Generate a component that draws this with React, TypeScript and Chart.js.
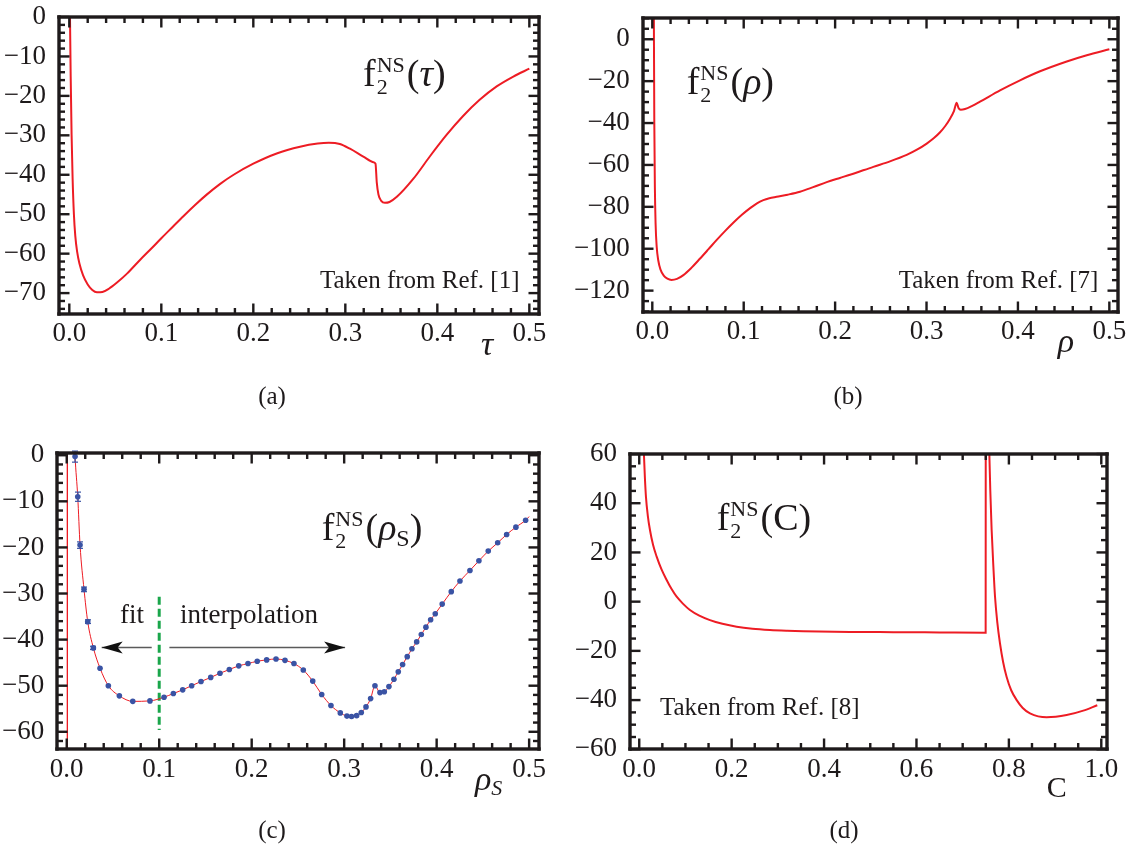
import React, { useEffect, useRef } from 'react';
import { Chart, registerables } from 'chart.js';

Chart.register(...registerables);

const SERIF = '"Liberation Serif", "Times New Roman", Times, serif';
const INK = '#1e1a1b';
const RED = '#ed1c24';
const BLUE = '#3a53a4';
const GREEN = '#1aa64b';
const ARROW = '#5a5a5a';

Chart.defaults.font.family = SERIF;
Chart.defaults.color = INK;

// ---------------- Panel (a): f2NS(tau) ----------------
const aTau = [0.0006, 0.0015, 0.0025, 0.0036, 0.005, 0.0065, 0.0085, 0.011, 0.015, 0.02, 0.025, 0.03, 0.036, 0.043, 0.0515, 0.063, 0.0768, 0.09, 0.1, 0.112, 0.124, 0.137, 0.149, 0.164, 0.1786, 0.2, 0.2254, 0.2508, 0.27, 0.282, 0.294, 0.305, 0.3196, 0.3304, 0.3328, 0.3342, 0.336, 0.339, 0.343, 0.348, 0.356, 0.374, 0.392, 0.41, 0.428, 0.446, 0.4645, 0.4826, 0.5];
const aF = [3, -15, -30, -41, -50, -55.5, -59.5, -62.5, -65.5, -67.8, -69.2, -69.8, -69.7, -68.9, -67.4, -65.0, -61.6, -58.5, -56.1, -53.3, -50.5, -47.6, -45.1, -42.3, -40.0, -37.2, -34.6, -32.9, -32.1, -31.9, -32.2, -33.4, -35.4, -36.8, -37.2, -42.0, -45.0, -46.6, -47.1, -46.9, -45.6, -41.0, -35.3, -29.9, -25.1, -21.0, -17.6, -15.1, -13.1];
const aXTicks = [0, 0.1, 0.2, 0.3, 0.4, 0.5];
const aYTicks = [0, -10, -20, -30, -40, -50, -60, -70];

// ---------------- Panel (b): f2NS(rho) ----------------
const bRho = [0.0017, 0.0022, 0.0028, 0.0036, 0.0048, 0.0065, 0.009, 0.0125, 0.0165, 0.021, 0.027, 0.034, 0.043, 0.052, 0.0615, 0.0705, 0.0795, 0.0886, 0.098, 0.107, 0.1145, 0.1215, 0.128, 0.136, 0.148, 0.1616, 0.176, 0.1908, 0.2052, 0.2163, 0.2418, 0.26, 0.2783, 0.29, 0.3002, 0.3078, 0.3148, 0.3205, 0.3257, 0.33, 0.333, 0.335, 0.3374, 0.3421, 0.35, 0.3585, 0.3804, 0.4023, 0.4242, 0.4534, 0.4753, 0.5];
const bF = [12, -40, -70, -88, -99, -105.5, -110, -112.8, -114.3, -114.9, -114.4, -112.6, -109, -104.8, -100.2, -95.8, -91.6, -87.6, -83.8, -80.6, -78.3, -76.8, -75.9, -75.2, -74.2, -72.8, -70.6, -68.2, -66.2, -64.7, -60.9, -58.3, -55.2, -52.6, -49.8, -47.3, -44.4, -41.4, -37.9, -34.3, -30.3, -32.8, -33.6, -33.3, -31.8, -29.8, -24.4, -19.6, -15.3, -10.6, -7.6, -4.8];
const bXTicks = [0, 0.1, 0.2, 0.3, 0.4, 0.5];
const bYTicks = [0, -20, -40, -60, -80, -100, -120];

// ---------------- Panel (c): f2NS(rhoS) ----------------
const cRhoS = [0.009, 0.0119, 0.0144, 0.0187, 0.0227, 0.0288, 0.036, 0.045, 0.0569, 0.0714, 0.09, 0.1052, 0.1153, 0.1254, 0.1351, 0.1452, 0.1557, 0.1657, 0.1758, 0.186, 0.196, 0.206, 0.2162, 0.2263, 0.236, 0.2457, 0.2558, 0.266, 0.2757, 0.2857, 0.2958, 0.303, 0.308, 0.3135, 0.3185, 0.3236, 0.3286, 0.3333, 0.3387, 0.3434, 0.3484, 0.3538, 0.3585, 0.3632, 0.3682, 0.3733, 0.3784, 0.3834, 0.3884, 0.3935, 0.3985, 0.406, 0.4158, 0.4252, 0.436, 0.4457, 0.4558, 0.466, 0.4757, 0.4857, 0.4962];
const cF = [-0.3, -9.0, -19.5, -29.1, -36.1, -41.8, -46.2, -50.0, -52.2, -53.4, -53.3, -52.5, -51.7, -50.9, -50.0, -49.1, -48.2, -47.3, -46.5, -45.7, -45.2, -44.7, -44.4, -44.2, -44.5, -45.2, -46.6, -49.0, -51.9, -54.3, -55.9, -56.6, -56.7, -56.5, -55.8, -54.6, -52.8, -50.0, -51.5, -51.3, -50.2, -48.6, -47.0, -45.4, -43.7, -42.0, -40.5, -38.9, -37.3, -35.7, -34.4, -32.3, -29.6, -27.3, -25.0, -22.9, -20.8, -19.0, -17.2, -15.6, -14.1];
const cErr = [1.2, 1.0, 0.7, 0.5, 0.4, 0.35];
const cFitRhoS = [0.0083, ...cRhoS, 0.5];
const cFitF = [3, ...cF, -13.3];
const cPoleRhoS = [0.0007, 0.0007];
const cPoleF = [2, -66];
const cCutRhoS = [0.1, 0.1];
const cCutF = [-30.7, -59.6];
const cFitArrowRhoS = [0.0919, 0.0378];
const cInterpArrowRhoS = [0.111, 0.301];
const cArrowF = [-41.7, -41.7];
const cXTicks = [0, 0.1, 0.2, 0.3, 0.4, 0.5];
const cYTicks = [0, -10, -20, -30, -40, -50, -60];

// ---------------- Panel (d): f2NS(C) ----------------
const dC1 = [0.0095, 0.0102, 0.0122, 0.0145, 0.0185, 0.0232, 0.03, 0.0377, 0.048, 0.0593, 0.07, 0.081, 0.095, 0.1097, 0.13, 0.153, 0.18, 0.2108, 0.245, 0.2829, 0.32, 0.355, 0.456, 0.55, 0.65, 0.7497, 0.7499];
const dF1 = [64, 59.6, 50.5, 42.7, 35.0, 29.1, 23.0, 18.3, 13.2, 8.8, 5.1, 2.0, -0.9, -3.4, -5.7, -7.5, -9.0, -10.2, -11.0, -11.5, -11.8, -12.0, -12.3, -12.4, -12.5, -12.6, 64];
const dC2 = [0.7572, 0.7598, 0.7627, 0.7665, 0.77, 0.775, 0.7807, 0.7875, 0.795, 0.805, 0.8169, 0.83, 0.8457, 0.8818, 0.925, 0.961, 0.9913];
const dF2 = [64, 45, 29.1, 14, 2.0, -8.5, -16.9, -24.5, -30.5, -36.0, -40.0, -43.2, -45.4, -47.0, -46.1, -44.3, -42.1];
const dXTicks = [0, 0.2, 0.4, 0.6, 0.8, 1.0];
const dYTicks = [60, 40, 20, 0, -20, -40, -60];

// ---------------- helpers ----------------
const xy = (xs: number[], ys: number[]) => xs.map((x, i) => ({ x, y: ys[i] }));
const fmtDec = (v: number) => (v < 0 ? '\u2212' : '') + Math.abs(v).toFixed(1);
const fmtInt = (v: number) => (v < 0 ? '\u2212' : '') + String(Math.abs(Math.round(v)));
const font = (size: number, italic?: boolean) => `${italic ? 'italic ' : ''}${size}px ${SERIF}`;

const curve = (xs: number[], ys: number[], w: number) => ({
  data: xy(xs, ys), showLine: true, borderColor: RED, borderWidth: w, pointRadius: 0,
  cubicInterpolationMode: 'monotone', fill: false,
});
const straight = (xs: number[], ys: number[], color: string, w: number, dash?: number[]) => ({
  data: xy(xs, ys), showLine: true, borderColor: color, borderWidth: w, borderDash: dash || [],
  pointRadius: 0, tension: 0, fill: false,
});

type Seg = { t: string; size: number; italic?: boolean; dx?: number; dy?: number; hold?: boolean };
type TextItem = { segs: Seg[]; x: number; y: number; align?: 'left' | 'center' | 'right' };
type Panel = {
  id: string;
  left: number; top: number; width: number; height: number;
  area: { l: number; t: number; r: number; b: number };
  xMin: number; xMax: number; yMin: number; yMax: number;
  xTicks: number[]; yTicks: number[]; xMinor: number; yMinor: number;
  xFmt: (v: number) => string; yFmt: (v: number) => string;
  datasets: () => any[];
  texts: TextItem[];
  arrowSets?: number[];
  err?: { xs: number[]; ys: number[]; e: number[] };
};

const fLabel = (x: number, y: number, arg: Seg[]): TextItem => ({
  x, y,
  segs: [
    { t: 'f', size: 38 },
    { t: '2', size: 22, dx: 1, dy: 8, hold: true },
    { t: 'NS', size: 22, dx: 1, dy: -14 },
    { t: '(', size: 38, dx: 2 },
    ...arg,
    { t: ')', size: 38 },
  ],
});
const plain = (t: string, x: number, y: number, size: number, align: 'left' | 'center' | 'right' = 'left', italic = false): TextItem => ({
  x, y, align, segs: [{ t, size, italic }],
});

const panels: Panel[] = [
  {
    id: 'a', left: 0, top: 0, width: 564, height: 423,
    area: { l: 59, t: 17, r: 539, b: 314 },
    xMin: -0.0112, xMax: 0.5105, yMin: -75.3, yMax: 0,
    xTicks: aXTicks, yTicks: aYTicks, xMinor: 0.02, yMinor: 2,
    xFmt: fmtDec, yFmt: fmtInt,
    datasets: () => [curve(aTau, aF, 2)],
    texts: [
      fLabel(363, 86, [{ t: '\u03C4', size: 38, italic: true }]),
      plain('Taken from Ref. [1]', 519.5, 288, 25, 'right'),
      plain('\u03C4', 487, 355, 34, 'center', true),
      plain('(a)', 272, 404, 25, 'center'),
    ],
  },
  {
    id: 'b', left: 564, top: 0, width: 565, height: 423,
    area: { l: 642.7, t: 18.3, r: 1118.3, b: 312 },
    xMin: -0.0105, xMax: 0.5098, yMin: -130.2, yMax: 10,
    xTicks: bXTicks, yTicks: bYTicks, xMinor: 0.02, yMinor: 5,
    xFmt: fmtDec, yFmt: fmtInt,
    datasets: () => [curve(bRho, bF, 2)],
    texts: [
      fLabel(686.7, 93.5, [{ t: '\u03C1', size: 38, italic: true }]),
      plain('Taken from Ref. [7]', 1098.3, 288, 25, 'right'),
      plain('\u03C1', 1066, 352, 34, 'center', true),
      plain('(b)', 848, 404, 25, 'center'),
    ],
  },
  {
    id: 'c', left: 0, top: 423, width: 564, height: 424,
    area: { l: 57.3, t: 452.7, r: 539.3, b: 749.3 },
    xMin: -0.0102, xMax: 0.511, yMin: -63.8, yMax: 0.55,
    xTicks: cXTicks, yTicks: cYTicks, xMinor: 0.02, yMinor: 2,
    xFmt: fmtDec, yFmt: fmtInt,
    datasets: () => [
      { data: xy(cRhoS, cF), showLine: false, pointRadius: 2.8, pointBackgroundColor: BLUE, pointBorderWidth: 0, pointStyle: 'circle' },
      curve(cFitRhoS, cFitF, 1),
      straight(cPoleRhoS, cPoleF, RED, 1),
      straight(cCutRhoS, cCutF, GREEN, 3, [8, 4]),
      straight(cFitArrowRhoS, cArrowF, ARROW, 1.6),
      straight(cInterpArrowRhoS, cArrowF, ARROW, 1.6),
    ],
    arrowSets: [4, 5],
    err: { xs: cRhoS, ys: cF, e: cErr },
    texts: [
      fLabel(321.7, 540, [{ t: '\u03C1', size: 38, italic: true }, { t: 'S', size: 24, dy: 6 }]),
      plain('fit', 120, 623, 27),
      plain('interpolation', 180, 623, 27),
      { x: 475, y: 790, align: 'left', segs: [{ t: '\u03C1', size: 34, italic: true }, { t: 'S', size: 22, italic: true, dy: 5 }] },
      plain('(c)', 272, 838, 25, 'center'),
    ],
  },
  {
    id: 'd', left: 564, top: 423, width: 565, height: 424,
    area: { l: 630, t: 454, r: 1106.7, b: 749.3 },
    xMin: -0.02, xMax: 1.0117, yMin: -60, yMax: 60,
    xTicks: dXTicks, yTicks: dYTicks, xMinor: 0.05, yMinor: 5,
    xFmt: fmtDec, yFmt: fmtInt,
    datasets: () => [curve(dC1, dF1, 2), curve(dC2, dF2, 2)],
    texts: [
      fLabel(716.7, 530, [{ t: 'C', size: 38 }]),
      plain('Taken from Ref. [8]', 660, 715, 25),
      plain('C', 1056.7, 797, 30, 'center'),
      plain('(d)', 844, 838, 25, 'center'),
    ],
  },
];

function tickValues(min: number, max: number, step: number, majors: number[]) {
  const out: { v: number; major: boolean }[] = [];
  for (const v of majors) {
    if (v >= min - 1e-9 && v <= max + 1e-9) out.push({ v, major: true });
  }
  const k0 = Math.ceil(min / step - 1e-9);
  const k1 = Math.floor(max / step + 1e-9);
  for (let k = k0; k <= k1; k++) {
    const v = k * step;
    let isMajor = false;
    for (const m of majors) if (Math.abs(m - v) < step * 1e-3) isMajor = true;
    if (!isMajor) out.push({ v, major: false });
  }
  return out;
}

function makePlugins(p: Panel) {
  const ox = p.left;
  const oy = p.top;
  const errBars = {
    id: 'errBars',
    afterDatasetsDraw(chart: any) {
      if (!p.err) return;
      const ctx = chart.ctx as CanvasRenderingContext2D;
      const sx = chart.scales.x;
      const sy = chart.scales.y;
      ctx.save();
      ctx.fillStyle = BLUE;
      p.err.e.forEach((e, i) => {
        const px = Math.round(sx.getPixelForValue(p.err!.xs[i]));
        const y1 = sy.getPixelForValue(p.err!.ys[i] + e);
        const y2 = sy.getPixelForValue(p.err!.ys[i] - e);
        ctx.fillRect(px - 0.6, y1, 1.2, y2 - y1);
        ctx.fillRect(px - 3, y1 - 0.6, 6, 1.2);
        ctx.fillRect(px - 3, y2 - 0.6, 6, 1.2);
      });
      ctx.restore();
    },
  };
  const arrows = {
    id: 'arrowHeads',
    afterDatasetsDraw(chart: any) {
      if (!p.arrowSets) return;
      const ctx = chart.ctx as CanvasRenderingContext2D;
      ctx.save();
      ctx.fillStyle = '#111111';
      for (const i of p.arrowSets) {
        const pts = chart.getDatasetMeta(i).data;
        const a = pts[pts.length - 2];
        const b = pts[pts.length - 1];
        const ang = Math.atan2(b.y - a.y, b.x - a.x);
        ctx.save();
        ctx.translate(b.x, b.y);
        ctx.rotate(ang);
        ctx.beginPath();
        ctx.moveTo(0, 0);
        ctx.lineTo(-21, -6);
        ctx.lineTo(-16, 0);
        ctx.lineTo(-21, 6);
        ctx.closePath();
        ctx.fill();
        ctx.restore();
      }
      ctx.restore();
    },
  };
  const overlay = {
    id: 'overlay',
    afterDraw(chart: any) {
      const ctx = chart.ctx as CanvasRenderingContext2D;
      const a = chart.chartArea;
      const sx = chart.scales.x;
      const sy = chart.scales.y;
      ctx.save();
      ctx.globalAlpha = 1;
      const TW = 2.4;
      const FW = 3.4;
      const L = Math.round(a.left), R = Math.round(a.right), T = Math.round(a.top), B = Math.round(a.bottom);
      ctx.fillStyle = INK;
      for (const t of tickValues(p.xMin, p.xMax, p.xMinor, p.xTicks)) {
        const px = sx.getPixelForValue(t.v);
        const len = t.major ? 10.5 : 6;
        ctx.fillRect(px - TW / 2, B - len, TW, len);
        ctx.fillRect(px - TW / 2, T, TW, len);
      }
      for (const t of tickValues(p.yMin, p.yMax, p.yMinor, p.yTicks)) {
        const py = sy.getPixelForValue(t.v);
        const len = t.major ? 10.5 : 6;
        ctx.fillRect(L, py - TW / 2, len, TW);
        ctx.fillRect(R - len, py - TW / 2, len, TW);
      }
      ctx.fillRect(L - FW / 2, T - FW / 2, R - L + FW, FW);
      ctx.fillRect(L - FW / 2, B - FW / 2, R - L + FW, FW);
      ctx.fillRect(L - FW / 2, T - FW / 2, FW, B - T + FW);
      ctx.fillRect(R - FW / 2, T - FW / 2, FW, B - T + FW);
      ctx.textBaseline = 'alphabetic';
      ctx.textAlign = 'left';
      for (const item of p.texts) {
        let total = 0;
        for (const s of item.segs) {
          ctx.font = font(s.size, s.italic);
          if (!s.hold) total += ctx.measureText(s.t).width + (s.dx || 0);
        }
        let cx = item.x - ox;
        if (item.align === 'center') cx -= total / 2;
        if (item.align === 'right') cx -= total;
        const by = item.y - oy;
        for (const s of item.segs) {
          ctx.font = font(s.size, s.italic);
          if (s.hold) {
            ctx.fillText(s.t, cx + (s.dx || 0), by + (s.dy || 0));
          } else {
            cx += s.dx || 0;
            ctx.fillText(s.t, cx, by + (s.dy || 0));
            cx += ctx.measureText(s.t).width;
          }
        }
      }
      ctx.restore();
    },
  };
  return [errBars, arrows, overlay];
}

function makeChart(canvas: HTMLCanvasElement, p: Panel) {
  const aL = p.area.l - p.left;
  const aT = p.area.t - p.top;
  const aR = p.area.r - p.left;
  const aB = p.area.b - p.top;
  const tickFont = { family: SERIF, size: 27 };
  const config: any = {
    type: 'scatter',
    data: { datasets: p.datasets() },
    options: {
      animation: false, responsive: false, devicePixelRatio: 1, events: [],
      layout: { padding: { left: 0, top: aT, right: p.width - aR, bottom: 0 } },
      elements: { line: { tension: 0, capBezierPoints: false }, point: { radius: 0 } },
      plugins: { legend: { display: false }, tooltip: { enabled: false }, title: { display: false } },
      scales: {
        x: {
          type: 'linear', min: p.xMin, max: p.xMax,
          grid: { display: false }, border: { display: false },
          ticks: {
            font: tickFont, color: INK, padding: -4, maxRotation: 0, minRotation: 0,
            autoSkip: false, includeBounds: false, callback: (v: any) => p.xFmt(Number(v)),
          },
          afterBuildTicks: (s: any) => { s.ticks = p.xTicks.map((v) => ({ value: v })); },
          afterFit: (s: any) => { s.height = p.height - aB; s.paddingLeft = 0; s.paddingRight = 0; },
        },
        y: {
          type: 'linear', min: p.yMin, max: p.yMax,
          grid: { display: false }, border: { display: false },
          ticks: {
            font: tickFont, color: INK, padding: 5, autoSkip: false, includeBounds: false,
            callback: (v: any) => p.yFmt(Number(v)),
          },
          afterBuildTicks: (s: any) => { s.ticks = p.yTicks.map((v) => ({ value: v })); },
          afterFit: (s: any) => { s.width = aL; s.paddingTop = 0; s.paddingBottom = 0; },
        },
      },
    },
    plugins: makePlugins(p),
  };
  return new Chart(canvas, config);
}

function PanelChart({ p }: { p: Panel }) {
  const ref = useRef<HTMLCanvasElement>(null);
  useEffect(() => {
    const chart = makeChart(ref.current as HTMLCanvasElement, p);
    return () => chart.destroy();
  }, []);
  return (
    <canvas ref={ref} width={p.width} height={p.height}
      style={{ position: 'absolute', left: p.left, top: p.top, width: p.width, height: p.height }} />
  );
}

export default function App() {
  return (
    <div style={{ position: 'absolute', left: 0, top: 0, width: 1129, height: 847, overflow: 'hidden', background: '#ffffff' }}>
      {panels.map((p) => (<PanelChart key={p.id} p={p} />))}
    </div>
  );
}
